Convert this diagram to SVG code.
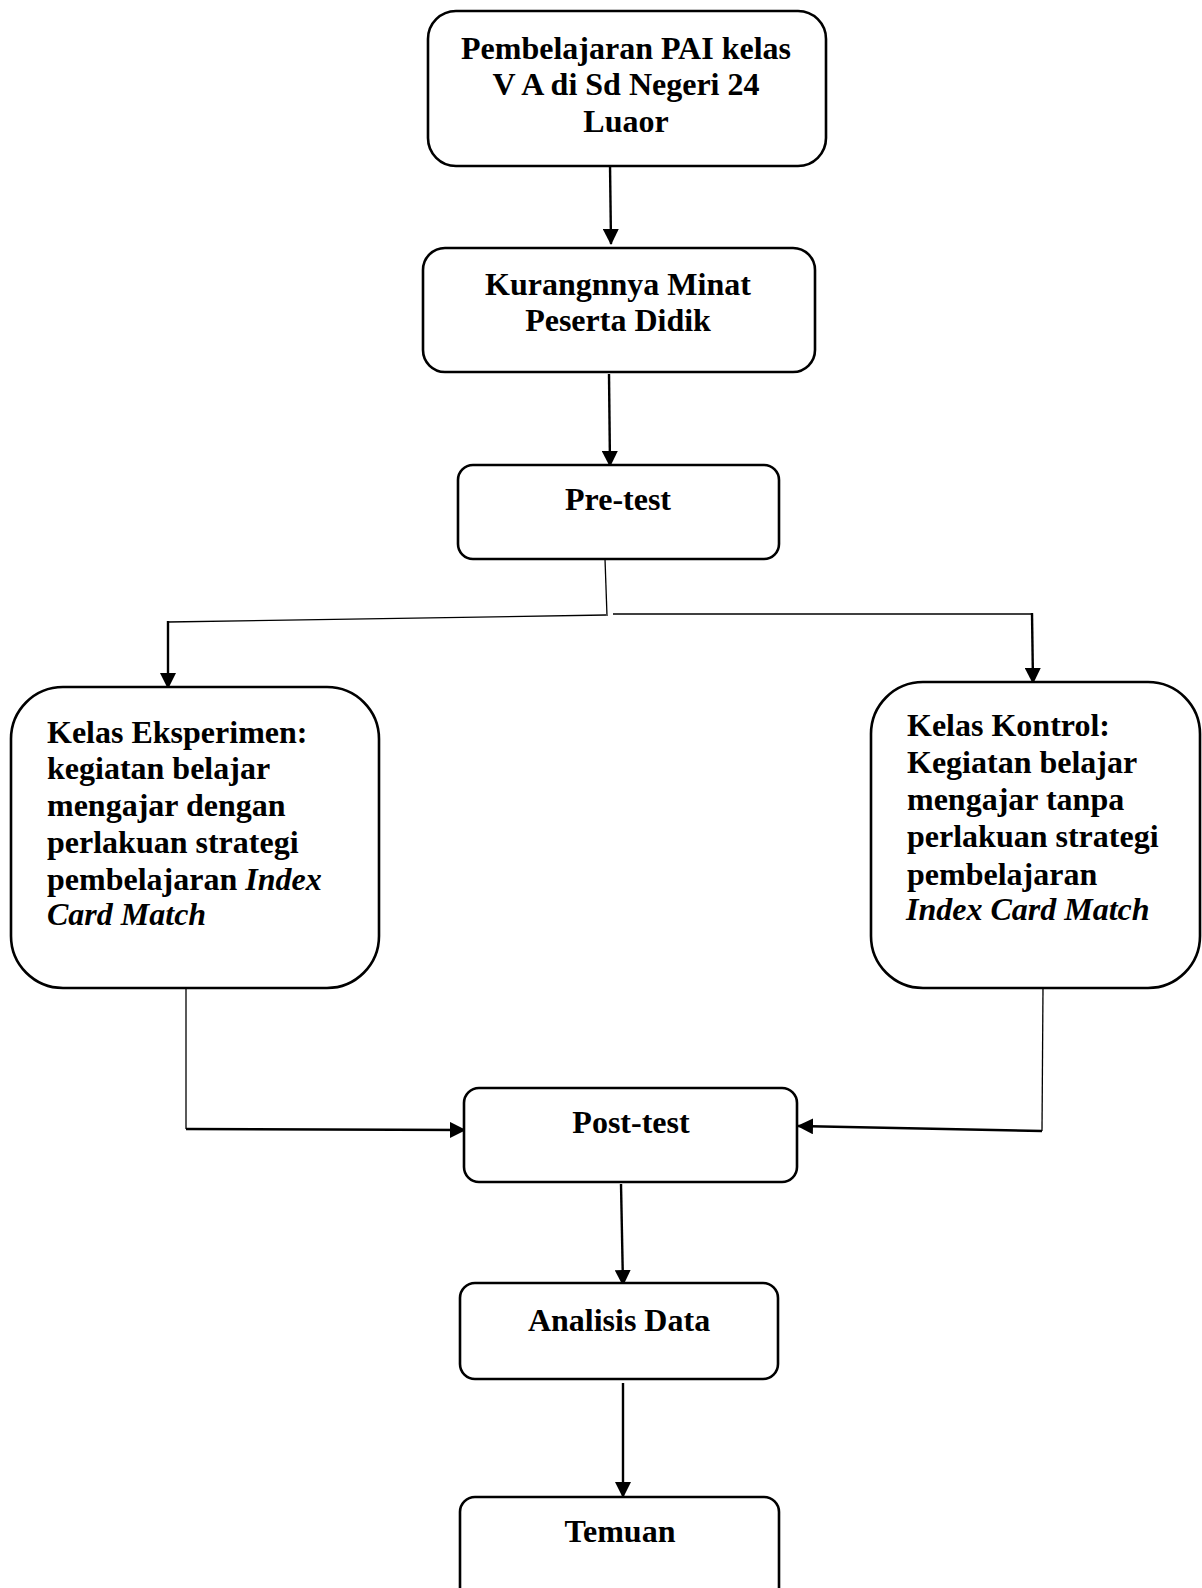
<svg xmlns="http://www.w3.org/2000/svg" width="1202" height="1588" viewBox="0 0 1202 1588">
<style>
.box{fill:#fff;stroke:#000;stroke-width:2.6}
.t{font-family:"Liberation Serif","Times New Roman",serif;font-weight:bold;font-size:32px;fill:#000}
.c{text-anchor:middle}
.i{font-style:italic}
.ln{fill:none;stroke:#000;stroke-width:2.4}
.thin{fill:none;stroke:#000;stroke-width:1.3}
</style>
<defs>
<marker id="ah" markerUnits="userSpaceOnUse" markerWidth="16" markerHeight="16" viewBox="0 0 16 16" refX="15" refY="8" orient="auto">
<path d="M0,0 L16,8 L0,16 Z" fill="#000"/>
</marker>
</defs>
<rect width="1202" height="1588" fill="#fff"/>
<g id="connectors">
<line class="ln" x1="610" y1="164" x2="611" y2="244" marker-end="url(#ah)"/>
<line class="ln" x1="609" y1="374" x2="610" y2="466" marker-end="url(#ah)"/>
<polyline class="thin" points="605,559 607,616"/>
<polyline class="thin" points="606,615 168,622"/>
<polyline class="thin" points="613,614 1032,614"/>
<line class="ln" x1="168" y1="621" x2="168" y2="688" marker-end="url(#ah)"/>
<line class="ln" x1="1032" y1="613" x2="1033" y2="683" marker-end="url(#ah)"/>
<polyline class="thin" points="186,988 186,1129"/>
<line class="ln" x1="186" y1="1129" x2="465" y2="1130" marker-end="url(#ah)"/>
<polyline class="thin" points="1043,988 1042,1131"/>
<line class="ln" x1="1042" y1="1131" x2="798" y2="1126" marker-end="url(#ah)"/>
<line class="ln" x1="621" y1="1184" x2="623" y2="1285" marker-end="url(#ah)"/>
<line class="ln" x1="623" y1="1383" x2="623" y2="1497" marker-end="url(#ah)"/>
</g>
<g id="n1">
<rect class="box" x="428" y="11" width="398" height="155" rx="28"/>
<text class="t c" x="626" y="59">Pembelajaran PAI kelas</text>
<text class="t c" x="626" y="95">V A di Sd Negeri 24</text>
<text class="t c" x="626" y="132">Luaor</text>
</g>
<g id="n2">
<rect class="box" x="423" y="248" width="392" height="124" rx="22"/>
<text class="t c" x="618" y="295">Kurangnnya Minat</text>
<text class="t c" x="618" y="331">Peserta Didik</text>
</g>
<g id="n3">
<rect class="box" x="458" y="465" width="321" height="94" rx="15"/>
<text class="t c" x="618" y="510">Pre-test</text>
</g>
<g id="n4">
<rect class="box" x="11" y="687" width="368" height="301" rx="52"/>
<text class="t" x="47" y="743">Kelas Eksperimen:</text>
<text class="t" x="47" y="779">kegiatan belajar</text>
<text class="t" x="47" y="816">mengajar dengan</text>
<text class="t" x="47" y="853">perlakuan strategi</text>
<text class="t" x="47" y="890">pembelajaran <tspan class="i">Index</tspan></text>
<text class="t i" x="47" y="925">Card Match</text>
</g>
<g id="n5">
<rect class="box" x="871" y="682" width="329" height="306" rx="52"/>
<text class="t" x="907" y="736">Kelas Kontrol:</text>
<text class="t" x="907" y="773">Kegiatan belajar</text>
<text class="t" x="907" y="810">mengajar tanpa</text>
<text class="t" x="907" y="847">perlakuan strategi</text>
<text class="t" x="907" y="885">pembelajaran</text>
<text class="t i" x="906" y="920">Index Card Match</text>
</g>
<g id="n6">
<rect class="box" x="464" y="1088" width="333" height="94" rx="15"/>
<text class="t c" x="631" y="1133">Post-test</text>
</g>
<g id="n7">
<rect class="box" x="460" y="1283" width="318" height="96" rx="15"/>
<text class="t c" x="619" y="1331">Analisis Data</text>
</g>
<g id="n8">
<rect class="box" x="460" y="1497" width="319" height="110" rx="15"/>
<text class="t c" x="620" y="1542">Temuan</text>
</g>
</svg>
